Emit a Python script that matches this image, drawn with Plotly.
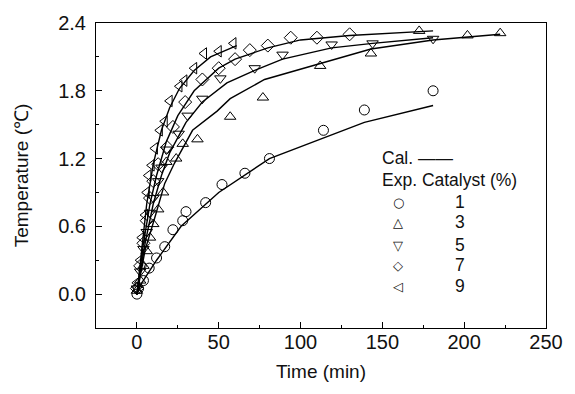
import plotly.graph_objects as go

# Experimental data: time (min) and temperature rise (°C) for each catalyst %
exp1_t = [0, 1, 4, 7.5, 12, 17, 22, 28, 30, 42, 52, 66, 81, 114, 139, 181]
exp1_y = [0.0, 0.05, 0.12, 0.23, 0.32, 0.42, 0.57, 0.65, 0.73, 0.81, 0.97, 1.07, 1.20, 1.45, 1.63, 1.80]

exp3_t = [0, 2, 4, 6, 8, 10, 13, 16, 18, 24, 28, 37, 57, 77, 112, 143, 172.5, 202, 222]
exp3_y = [0.03, 0.12, 0.25, 0.38, 0.5, 0.62, 0.75, 0.9, 1.17, 1.2, 1.33, 1.37, 1.57, 1.74, 2.02, 2.13, 2.33, 2.29, 2.31]

exp5_t = [0, 2, 4, 6, 8, 10, 13, 15, 18, 25.5, 31, 40, 51, 72, 89, 119, 144, 181]
exp5_y = [0.05, 0.2, 0.4, 0.55, 0.72, 0.85, 1.0, 1.12, 1.28, 1.42, 1.58, 1.73, 1.91, 2.0, 2.12, 2.21, 2.22, 2.26]

exp7_t = [0, 2, 4, 6, 8, 10, 13, 18.5, 22, 29.5, 40, 50, 60, 69, 80, 94, 110, 130]
exp7_y = [0.05, 0.25, 0.45, 0.65, 0.85, 1.0, 1.15, 1.3, 1.48, 1.7, 1.9, 2.0, 2.08, 2.16, 2.2, 2.27, 2.27, 2.30]

exp9_t = [0, 2, 3, 5, 6, 7, 9, 11, 14, 17, 20, 26, 29, 35, 41, 50, 59]
exp9_y = [0.1, 0.3, 0.5, 0.7, 0.9, 1.05, 1.14, 1.29, 1.45, 1.53, 1.71, 1.84, 1.89, 2.0, 2.13, 2.15, 2.22]

# Calculated curves
cal1_t = [0, 3, 12, 27, 50, 81, 139, 181]
cal1_y = [0.0, 0.1, 0.3, 0.6, 0.9, 1.2, 1.52, 1.67]

cal3_t = [0, 5, 11, 17, 23, 34, 49, 57, 78, 143, 181, 222]
cal3_y = [0.0, 0.39, 0.68, 0.98, 1.16, 1.45, 1.62, 1.73, 1.90, 2.17, 2.25, 2.30]

cal5_t = [0, 5, 10, 15, 20, 30, 40, 55, 72, 89, 119, 144, 181]
cal5_y = [0.0, 0.45, 0.8, 1.05, 1.25, 1.52, 1.7, 1.87, 1.98, 2.08, 2.18, 2.22, 2.27]

cal7_t = [0, 4, 8, 12, 18, 25, 35, 50, 60, 80, 100, 130, 181]
cal7_y = [0.0, 0.45, 0.8, 1.05, 1.35, 1.58, 1.8, 2.0, 2.08, 2.18, 2.25, 2.29, 2.33]

cal9_t = [0, 3, 6, 10, 15, 20, 26, 35, 45, 61]
cal9_y = [0.0, 0.4, 0.8, 1.15, 1.45, 1.65, 1.82, 1.98, 2.1, 2.2]

catalyst_labels = ["1", "3", "5", "7", "9"]
legend_glyphs = ["○", "△", "▽", "◇", "◁"]

FONT = "'Liberation Sans', Arial, sans-serif"
TXT = "#111111"

fig = go.Figure()

for t, y in [(cal1_t, cal1_y), (cal3_t, cal3_y), (cal5_t, cal5_y), (cal7_t, cal7_y), (cal9_t, cal9_y)]:
    fig.add_trace(go.Scatter(x=t, y=y, mode="lines", line=dict(color="black", width=1.4),
                             showlegend=False, hoverinfo="skip"))

symbols = ["circle-open", "triangle-up-open", "triangle-down-open", "diamond-open", "triangle-left-open"]
exps = [(exp1_t, exp1_y), (exp3_t, exp3_y), (exp5_t, exp5_y), (exp7_t, exp7_y), (exp9_t, exp9_y)]
for (t, y), s in zip(exps, symbols):
    fig.add_trace(go.Scatter(x=t, y=y, mode="markers",
                             marker=dict(symbol=s, size=10, color="black", line=dict(width=1, color="black")),
                             showlegend=False))

annotations = [
    dict(text="Cal. ——", x=0.630, y=0.556, xanchor="left", yanchor="middle", showarrow=False,
         xref="paper", yref="paper", font=dict(size=17.5, family=FONT, color=TXT)),
    dict(text="Exp. Catalyst (%)", x=0.630, y=0.484, xanchor="left", yanchor="middle", showarrow=False,
         xref="paper", yref="paper", font=dict(size=17.5, family=FONT, color=TXT)),
]
row_y = [0.412, 0.346, 0.271, 0.206, 0.137]
for g, lab, ry in zip(legend_glyphs, catalyst_labels, row_y):
    annotations.append(dict(text=g, x=0.672, y=ry, xanchor="center", yanchor="middle", showarrow=False,
                            xref="paper", yref="paper", font=dict(size=13, family="DejaVu Sans", color=TXT)))
    annotations.append(dict(text=lab, x=0.809, y=ry, xanchor="center", yanchor="middle", showarrow=False,
                            xref="paper", yref="paper", font=dict(size=17.5, family=FONT, color=TXT)))

fig.update_layout(
    width=575, height=394,
    margin=dict(l=96, r=19, t=22, b=66),
    paper_bgcolor="white", plot_bgcolor="white",
    font=dict(family=FONT, size=19, color=TXT),
    annotations=annotations,
)
fig.update_xaxes(range=[-25, 250], tickvals=[0, 50, 100, 150, 200, 250], ticks="inside", ticklen=6,
                 tickcolor="black", showline=True, linecolor="black", linewidth=1, mirror=True,
                 showgrid=False, zeroline=False, minor=dict(ticks="inside", ticklen=3, dtick=25, tick0=0, tickcolor="black"),
                 ticklabelstandoff=-4,
                 title=dict(text="Time (min)", standoff=12, font=dict(size=19)), tickfont=dict(size=20))
fig.update_yaxes(range=[-0.3, 2.4], tickvals=[0, 0.6, 1.2, 1.8, 2.4], tickformat=".1f", ticks="inside", ticklen=6,
                 tickcolor="black", showline=True, linecolor="black", linewidth=1, mirror=True,
                 showgrid=False, zeroline=False, minor=dict(ticks="inside", ticklen=3, dtick=0.3, tick0=0, tickcolor="black"),
                 ticklabelstandoff=5,
                 title=dict(text="Temperature (℃)", standoff=24, font=dict(size=19)), tickfont=dict(size=20))

fig.write_html("out.html")
